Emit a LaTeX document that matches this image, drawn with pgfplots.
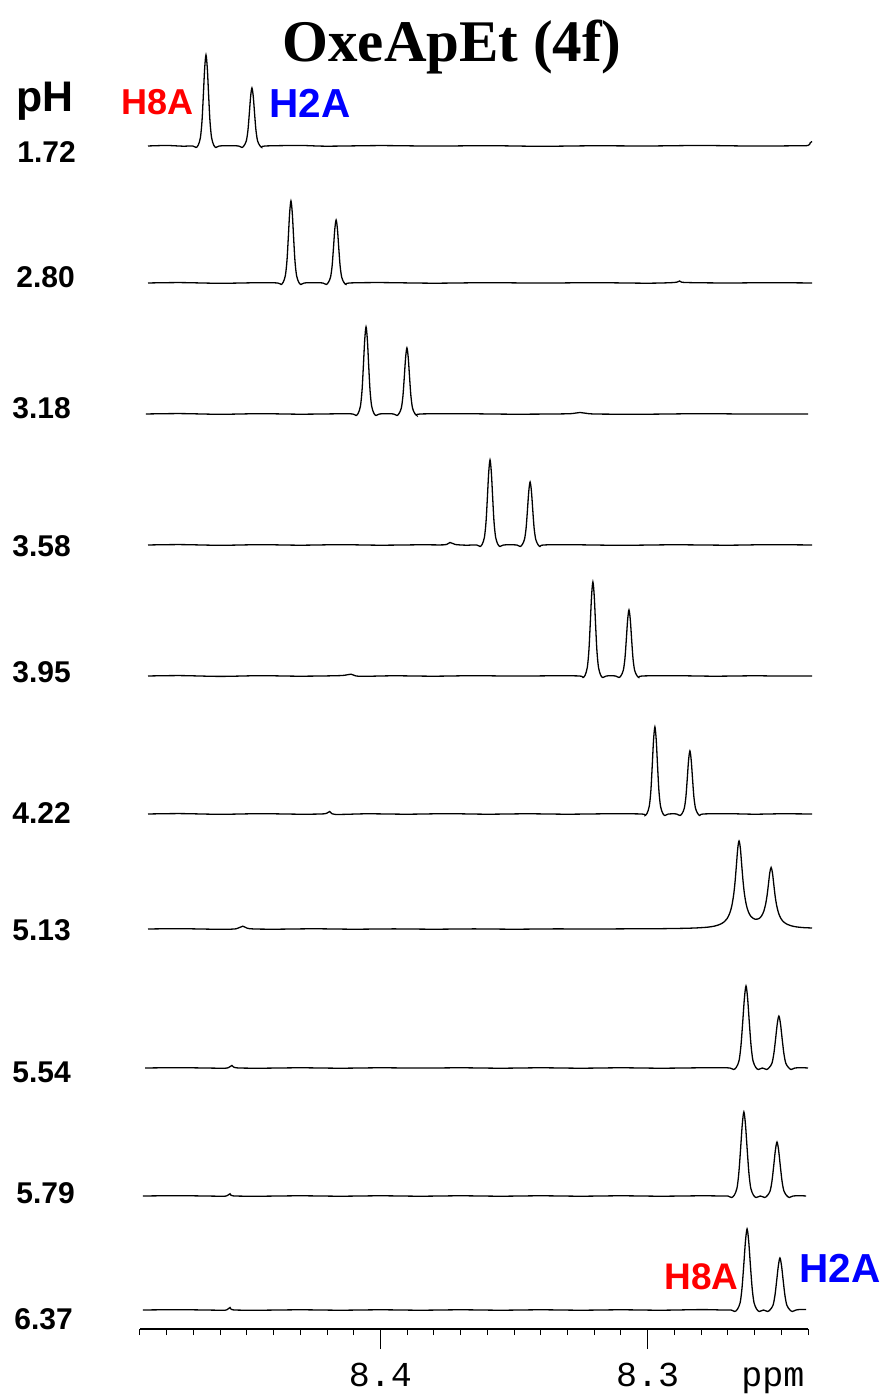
\documentclass[border=0pt]{standalone}
\usepackage{fontspec}
\setmainfont{Liberation Sans}
\newfontfamily\titlefont{Liberation Serif}
\newfontfamily\tickfont{Liberation Mono}
\usepackage{pgfplots}
\pgfplotsset{compat=1.18}
\begin{document}
\begin{tikzpicture}
\begin{axis}[
  scale only axis, width=334pt, height=644.5pt,
  xmin=8.24, xmax=8.49, ymin=66, ymax=1355,
  x dir=reverse,
  axis x line*=bottom, axis y line=none,
  clip=false,
  xtick={8.3,8.4}, xticklabels={8.3,8.4},
  minor xtick={8.24,8.25,8.26,8.27,8.28,8.29,8.31,8.32,8.33,8.34,8.35,8.36,8.37,8.38,8.39,8.41,8.42,8.43,8.44,8.45,8.46,8.47,8.48,8.49},
  tick align=outside,
  major tick length=10pt, minor tick length=3pt,
  tick style={black, line width=0.5pt},
  axis line style={black, line width=0.6pt},
  xticklabel style={font=\tickfont\fontsize{17.5}{18}\selectfont, anchor=base, yshift=-18.5pt},
  cycle list={{black, solid}},
  every axis plot post/.append style={black, solid, line width=0.65pt, smooth, tension=0.5, no markers},
]
% pH 1.72
\addplot coordinates {
(8.4870,1249) (8.4800,1249.5) (8.4740,1248.8) (8.4703,1249) (8.4690,1247.5) (8.4682,1249.9) (8.4674,1257.2) (8.4668,1273.6) (8.4663,1299.1) (8.4658,1326.4) (8.4653,1340) (8.4648,1326.4) (8.4643,1299.1) (8.4638,1273.6) (8.4632,1257.2) (8.4624,1249.9) (8.4616,1247.5) (8.4603,1249)
(8.4560,1249.3) (8.4531,1249) (8.4518,1247.5) (8.4510,1249.6) (8.4502,1254.2) (8.4496,1264.7) (8.4491,1280.9) (8.4486,1298.3) (8.4481,1307) (8.4476,1298.3) (8.4471,1280.9) (8.4466,1264.7) (8.4460,1254.2) (8.4452,1249.6) (8.4444,1247.5) (8.4431,1249)
(8.4300,1249.5) (8.4200,1248.8) (8.4000,1249.4) (8.3800,1248.9) (8.3600,1249.3) (8.3400,1248.7) (8.3200,1249.2) (8.3000,1249.0) (8.2800,1249.5) (8.2600,1248.9) (8.2450,1249.2) (8.2400,1249.5) (8.2392,1252) (8.2385,1253.5)
};
% pH 2.80
\addplot coordinates {
(8.4870,1112) (8.4750,1112.4) (8.4600,1111.7) (8.4450,1112.3)
(8.4385,1112) (8.4372,1110.5) (8.4364,1112.8) (8.4356,1119.4) (8.4350,1134.1) (8.4345,1157.1) (8.4340,1181.7) (8.4335,1194) (8.4330,1181.7) (8.4325,1157.1) (8.4320,1134.1) (8.4314,1119.4) (8.4306,1112.8) (8.4298,1110.5) (8.4285,1112)
(8.4250,1112.3)
(8.4216,1112) (8.4203,1110.5) (8.4195,1112.6) (8.4187,1117.7) (8.4181,1129) (8.4176,1146.7) (8.4171,1165.6) (8.4166,1175) (8.4161,1165.6) (8.4156,1146.7) (8.4151,1129) (8.4145,1117.7) (8.4137,1112.6) (8.4129,1110.5) (8.4116,1112)
(8.4000,1112.4) (8.3800,1111.8) (8.3600,1112.3) (8.3400,1111.9) (8.3200,1112.3) (8.3000,1111.8) (8.2900,1112.5) (8.2880,1114) (8.2860,1112.5) (8.2700,1112) (8.2550,1112.3) (8.2385,1112)
};
% pH 3.18
\addplot coordinates {
(8.4878,981) (8.4750,981.4) (8.4600,980.7) (8.4450,981.3) (8.4300,980.8) (8.4150,981.2)
(8.4104,981) (8.4091,979.5) (8.4083,981.9) (8.4075,988.8) (8.4069,1004.5) (8.4064,1028.9) (8.4059,1055) (8.4054,1068) (8.4049,1055) (8.4044,1028.9) (8.4039,1004.5) (8.4033,988.8) (8.4025,981.9) (8.4017,979.5) (8.4004,981)
(8.3980,981.3)
(8.3951,981) (8.3938,979.5) (8.3930,981.7) (8.3922,986.9) (8.3916,998.8) (8.3911,1017.3) (8.3906,1037.1) (8.3901,1047) (8.3896,1037.1) (8.3891,1017.3) (8.3886,998.8) (8.3880,986.9) (8.3872,981.7) (8.3864,979.5) (8.3851,981)
(8.3700,981.3) (8.3500,980.8) (8.3300,981.2) (8.3253,982.5) (8.3200,981) (8.3000,980.8) (8.2800,981.3) (8.2600,980.9) (8.2400,981)
};
% pH 3.58
\addplot coordinates {
(8.4870,850) (8.4750,850.4) (8.4600,849.7) (8.4450,850.3) (8.4300,849.8) (8.4150,850.3) (8.4000,849.8) (8.3850,850.2) (8.3760,850.2) (8.3740,852.5) (8.3720,850.5) (8.3680,849.8)
(8.3640,850) (8.3627,848.5) (8.3619,850.9) (8.3611,857.7) (8.3605,873) (8.3600,896.8) (8.3595,922.3) (8.3590,935) (8.3585,922.3) (8.3580,896.8) (8.3575,873) (8.3569,857.7) (8.3561,850.9) (8.3553,848.5) (8.3540,850)
(8.3515,850.2)
(8.3490,850) (8.3477,848.5) (8.3469,850.6) (8.3461,855.7) (8.3455,867) (8.3450,884.7) (8.3445,903.6) (8.3440,913) (8.3435,903.6) (8.3430,884.7) (8.3425,867) (8.3419,855.7) (8.3411,850.6) (8.3403,848.5) (8.3390,850)
(8.3300,850.3) (8.3100,849.7) (8.2900,850.2) (8.2700,849.8) (8.2550,850.3) (8.2385,850)
};
% pH 3.95
\addplot coordinates {
(8.4870,719) (8.4750,719.4) (8.4600,718.6) (8.4450,719.3) (8.4300,718.8) (8.4150,719.4) (8.4110,720.8) (8.4080,718.7) (8.3950,719.2) (8.3800,718.8) (8.3650,719.3) (8.3500,718.9) (8.3350,719.2)
(8.3255,719) (8.3242,717.5) (8.3234,719.9) (8.3226,727.5) (8.3220,744.4) (8.3215,770.7) (8.3210,798.9) (8.3205,813) (8.3200,798.9) (8.3195,770.7) (8.3190,744.4) (8.3184,727.5) (8.3176,719.9) (8.3168,717.5) (8.3155,719)
(8.3138,719.2)
(8.3120,719) (8.3107,717.5) (8.3099,719.7) (8.3091,724.9) (8.3085,736.8) (8.3080,755.3) (8.3075,775.1) (8.3070,785) (8.3065,775.1) (8.3060,755.3) (8.3055,736.8) (8.3049,724.9) (8.3041,719.7) (8.3033,717.5) (8.3020,719)
(8.2900,719.3) (8.2750,718.8) (8.2600,719.2) (8.2500,718.9) (8.2385,719)
};
% pH 4.22
\addplot coordinates {
(8.4870,581) (8.4750,581.4) (8.4600,580.7) (8.4450,581.3) (8.4300,580.8) (8.4210,581.2) (8.4190,583.5) (8.4170,580.6) (8.4050,581.2) (8.3900,580.8) (8.3750,581.3) (8.3600,580.8) (8.3450,581.2) (8.3300,580.8) (8.3150,581.2)
(8.3023,581) (8.3010,579.5) (8.3002,581.9) (8.2994,588.8) (8.2988,604.5) (8.2983,628.9) (8.2978,655) (8.2973,668) (8.2968,655) (8.2963,628.9) (8.2958,604.5) (8.2952,588.8) (8.2944,581.9) (8.2936,579.5) (8.2923,581)
(8.2908,581.2)
(8.2892,581) (8.2879,579.5) (8.2871,581.6) (8.2863,586.7) (8.2857,598) (8.2852,615.7) (8.2847,634.6) (8.2842,644) (8.2837,634.6) (8.2832,615.7) (8.2827,598) (8.2821,586.7) (8.2813,581.6) (8.2805,579.5) (8.2792,581)
(8.2700,581.3) (8.2600,580.8) (8.2500,581.2) (8.2385,581)
};
% pH 5.13
\addplot coordinates {
(8.4870,466) (8.4750,466.3) (8.4600,465.7) (8.4540,466.2) (8.4515,468.8) (8.4490,466.3) (8.4400,465.8) (8.4250,466.2) (8.4100,465.8) (8.3950,466.1) (8.3800,465.8) (8.3650,466.1) (8.3500,465.8) (8.3350,466.1) (8.3200,466) (8.3050,466.2)
(8.2958,466.3) (8.2858,466.7) (8.2808,467.2) (8.2773,467.9) (8.2748,469.0) (8.2728,470.8) (8.2713,473.3) (8.2703,476.3) (8.2693,481.7) (8.2685,489.3) (8.2678,500.7) (8.2673,513.1) (8.2668,529.5) (8.2663,546.3) (8.2658,554.0) (8.2653,546.4) (8.2648,529.8) (8.2643,513.7) (8.2638,501.4) (8.2631,490.3) (8.2623,483.1) (8.2613,478.4) (8.2598,475.8) (8.2583,476.5) (8.2573,479.4) (8.2565,484.1) (8.2558,491.6) (8.2553,499.9) (8.2548,510.9) (8.2543,522.3) (8.2538,527.5) (8.2533,522.1) (8.2528,510.4) (8.2523,499.1) (8.2518,490.5) (8.2511,482.6) (8.2503,477.3) (8.2493,473.5) (8.2478,470.7) (8.2463,469.2) (8.2443,468.1) (8.2418,467.4) (8.2385,467.0)
};
% pH 5.54
\addplot coordinates {
(8.4881,327) (8.4750,327.3) (8.4600,326.8) (8.4570,327.2) (8.4556,329.5) (8.4540,327.2) (8.4450,326.8) (8.4300,327.2) (8.4150,326.8) (8.4000,327.2) (8.3850,326.9) (8.3700,327.2) (8.3550,326.8) (8.3400,327.2) (8.3250,326.8) (8.3100,327.2) (8.2950,326.8) (8.2800,327.2) (8.2720,327.2)
(8.2692,327) (8.2678,325.5) (8.2668,327.8) (8.2658,334.4) (8.2651,349.1) (8.26445,372.1) (8.2638,396.7) (8.2632,409) (8.2626,396.7) (8.26195,372.1) (8.2613,349.1) (8.2606,334.4) (8.2596,327.8) (8.2586,325.5)
(8.25705,327)
(8.2555,325.5) (8.2545,327.5) (8.2535,331.7) (8.2528,341) (8.25215,355.6) (8.2515,371.2) (8.2509,379) (8.2503,371.2) (8.24965,355.6) (8.2490,341) (8.2483,331.7) (8.2473,327.5) (8.2463,325.5) (8.2449,327) (8.2425,327.3) (8.2400,327)
};
% pH 5.79
\addplot coordinates {
(8.4889,199) (8.4750,199.3) (8.4600,198.8) (8.4575,199.2) (8.4563,201.2) (8.4550,199.1) (8.4450,198.8) (8.4300,199.2) (8.4150,198.8) (8.4000,199.2) (8.3850,198.8) (8.3700,199.2) (8.3550,198.8) (8.3400,199.2) (8.3250,198.8) (8.3100,199.2) (8.2950,198.8) (8.2800,199.2) (8.2720,199)
(8.2700,199) (8.2686,197.5) (8.2676,199.8) (8.2666,206.6) (8.2659,221.7) (8.26525,245.2) (8.2646,270.4) (8.2640,283) (8.2634,270.4) (8.26275,245.2) (8.2621,221.7) (8.2614,206.6) (8.2604,199.8) (8.2594,197.5)
(8.2578,199)
(8.2562,197.5) (8.2552,199.5) (8.2542,203.9) (8.2535,213.6) (8.25285,228.7) (8.2522,244.9) (8.2516,253) (8.2510,244.9) (8.25035,228.7) (8.2497,213.6) (8.2490,203.9) (8.2480,199.5) (8.2470,197.5) (8.2456,199) (8.2430,199.3) (8.2407,199)
};
% pH 6.37
\addplot coordinates {
(8.4889,85) (8.4750,85.3) (8.4600,84.8) (8.4575,85.2) (8.4563,87.5) (8.4550,85.1) (8.4450,84.8) (8.4300,85.2) (8.4150,84.8) (8.4000,85.2) (8.3850,84.8) (8.3700,85.2) (8.3550,84.8) (8.3400,85.2) (8.3250,84.8) (8.3100,85.2) (8.2950,84.8) (8.2800,85.4) (8.2720,85)
(8.2688,85) (8.2674,83.5) (8.2664,85.8) (8.2654,92.3) (8.2647,106.9) (8.26405,129.6) (8.2634,153.9) (8.2628,166) (8.2622,153.9) (8.26155,129.6) (8.2609,106.9) (8.2602,92.3) (8.2592,85.8) (8.2582,83.5)
(8.25665,85)
(8.2551,83.5) (8.2541,85.5) (8.2531,89.7) (8.2524,99) (8.25175,113.6) (8.2511,129.2) (8.2505,137) (8.2499,129.2) (8.24925,113.6) (8.2486,99) (8.2479,89.7) (8.2469,85.5) (8.2459,83.5) (8.2445,85) (8.2425,85.6) (8.2407,85.5)
};
\node[anchor=base, inner sep=0pt, font=\tickfont\fontsize{17.5}{18}\selectfont] at (axis cs:8.2531,9) {ppm};
\coordinate (tl) at (axis cs:8.542395,1395);
\coordinate (br) at (axis cs:8.213054,0);
\end{axis}
\pgfresetboundingbox
\useasboundingbox (tl) rectangle (br);
\begin{scope}[shift={(tl)}, x=0.5pt, y=-0.5pt,
  every node/.style={inner sep=0pt, anchor=base west}]
  \node[anchor=base, font=\titlefont\bfseries\fontsize{29.5}{30}\selectfont] at (452,62) {OxeApEt (4f)};
  \node[font=\bfseries\fontsize{21.4}{22}\selectfont] at (16,112) {pH};
  \node[font=\bfseries\fontsize{18}{19}\selectfont, text=red] at (121,115) {H8A};
  \node[font=\bfseries\fontsize{20.25}{21}\selectfont, text=blue] at (269,118) {H2A};
  \node[font=\bfseries\fontsize{18.5}{19}\selectfont, text=red] at (664,1290) {H8A};
  \node[font=\bfseries\fontsize{20.25}{21}\selectfont, text=blue] at (799,1283) {H2A};
  \begin{scope}[every node/.append style={font=\bfseries\fontsize{15}{16}\selectfont}]
    \node at (17,163) {1.72};
    \node at (16,288) {2.80};
    \node at (12,419) {3.18};
    \node at (12,557) {3.58};
    \node at (12,683) {3.95};
    \node at (12,824) {4.22};
    \node at (12,941) {5.13};
    \node at (12,1083) {5.54};
    \node at (16,1204) {5.79};
    \node at (14,1330) {6.37};
  \end{scope}
\end{scope}
\end{tikzpicture}
\end{document}
